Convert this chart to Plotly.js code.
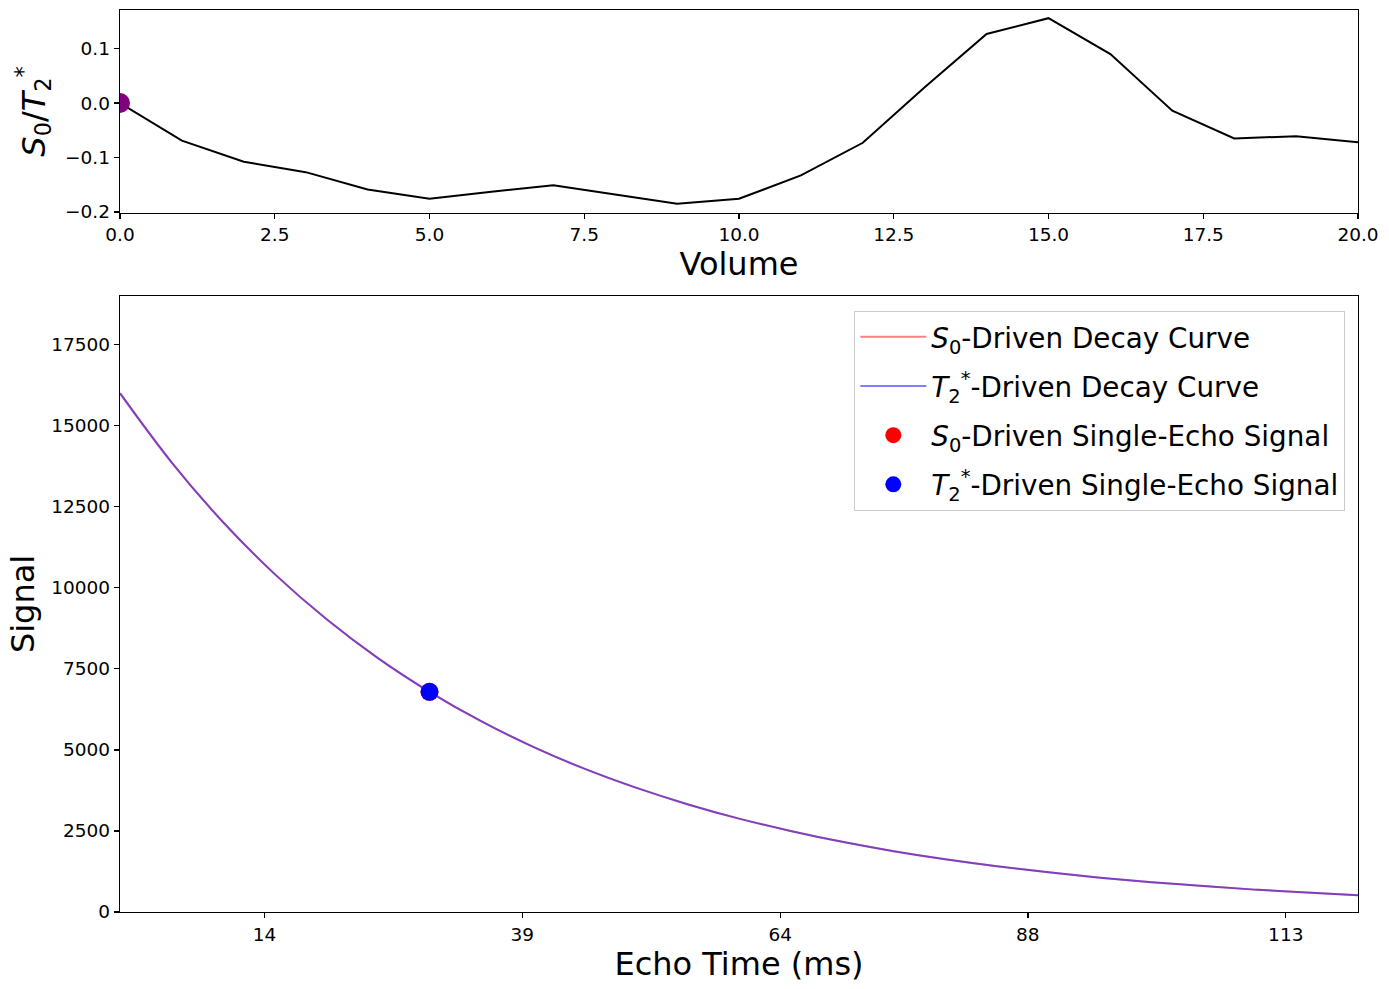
<!DOCTYPE html>
<html>
<head>
<meta charset="utf-8">
<script src="https://cdn.plot.ly/plotly-3.0.1.min.js"></script>
<style>html,body{margin:0;padding:0;background:#fff;}#chart{width:1389px;height:989px;}</style>
</head>
<body>
<div id="chart"></div>
<script>
// Top panel: S0/T2* ratio per volume
const volumes = [0,1,2,3,4,5,6,7,8,9,10,11,12,13,14,15,16,17,18,19,20];
const ratio = [0.0,-0.069,-0.108,-0.127,-0.159,-0.176,-0.163,-0.151,-0.168,-0.185,-0.176,-0.133,-0.073,0.029,0.127,0.156,0.090,-0.014,-0.065,-0.061,-0.072];
const currentVolume = [0];
const currentRatio = [0.0];

// Bottom panel: decay curves
const echoTimes = [0,5,10,15,20,25,30,35,40,45,50,55,60,65,70,75,80,85,90,95,100,105,110,115,120];
const s0Curve = [16000,13870,12020,10420,9035,7830,6790,5885,5100,4420,3835,3325,2880,2500,2165,1875,1625,1410,1225,1060,920,800,690,600,520];
const t2Curve = [16000,13870,12020,10420,9035,7830,6790,5885,5100,4420,3835,3325,2880,2500,2165,1875,1625,1410,1225,1060,920,800,690,600,520];
const singleEchoTE = [30];
const s0Single = [6790];
const t2Single = [6790];
const echoTickVals = [14,39,64,88,113];
const echoTickText = ["14","39","64","88","113"];

const FONT = "DejaVu Sans, sans-serif";
const tickFont = {family: FONT, size: 18.5, color: "#000"};
const titleFont = {family: FONT, size: 32, color: "#000"};

const traces = [
  {x: volumes, y: ratio, xaxis: "x", yaxis: "y", mode: "lines", type: "scatter",
   line: {color: "#000", width: 2}, showlegend: false},
  {x: currentVolume, y: currentRatio, xaxis: "x", yaxis: "y", mode: "markers", type: "scatter",
   marker: {color: "purple", size: 20}, showlegend: false},
  {x: echoTimes, y: s0Curve, xaxis: "x2", yaxis: "y2", mode: "lines", type: "scatter",
   line: {color: "rgba(255,0,0,0.5)", width: 2, shape: "spline"},
   name: "<i>S</i><sub>0</sub>-Driven Decay Curve", legendgroup: "a"},
  {x: echoTimes, y: t2Curve, xaxis: "x2", yaxis: "y2", mode: "lines", type: "scatter",
   line: {color: "rgba(0,0,255,0.5)", width: 2, shape: "spline"},
   name: "<i>T</i><sub>2</sub><sup>*</sup>-Driven Decay Curve", legendgroup: "b"},
  {x: singleEchoTE, y: s0Single, xaxis: "x2", yaxis: "y2", mode: "markers", type: "scatter",
   marker: {color: "red", size: 18},
   name: "<i>S</i><sub>0</sub>-Driven Single-Echo Signal", legendgroup: "c"},
  {x: singleEchoTE, y: t2Single, xaxis: "x2", yaxis: "y2", mode: "markers", type: "scatter",
   marker: {color: "blue", size: 18},
   name: "<i>T</i><sub>2</sub><sup>*</sup>-Driven Single-Echo Signal", legendgroup: "d"}
];

const axisCommon = {
  showline: true, linecolor: "#000", linewidth: 1.3, mirror: true,
  ticks: "outside", ticklen: 5, tickwidth: 1.3, tickcolor: "#000",
  showgrid: false, zeroline: false, tickfont: tickFont
};

const layout = {
  width: 1389, height: 989,
  margin: {l: 120, r: 31, t: 10, b: 77},
  paper_bgcolor: "#fff", plot_bgcolor: "#fff",
  font: {family: FONT, color: "#000"},
  showlegend: true,
  xaxis: Object.assign({}, axisCommon, {
    domain: [0, 1], anchor: "y", range: [0, 20], dtick: 2.5, tick0: 0, tickformat: ".1f",
    title: {text: "Volume", font: titleFont, standoff: 7}
  }),
  yaxis: Object.assign({}, axisCommon, {
    domain: [0.775, 1], anchor: "x", range: [-0.202, 0.171], dtick: 0.1, tick0: 0, tickformat: ".1f",
    title: {text: "<i>S</i><sub>0</sub>/<i>T</i><sub>2</sub><sup>*</sup>", font: titleFont, standoff: 10}
  }),
  xaxis2: Object.assign({}, axisCommon, {
    domain: [0, 1], anchor: "y2", range: [0, 120], tickvals: echoTickVals, ticktext: echoTickText,
    title: {text: "Echo Time (ms)", font: titleFont, standoff: 6}
  }),
  yaxis2: Object.assign({}, axisCommon, {
    domain: [0, 0.683], anchor: "x2", range: [0, 19000], dtick: 2500, tick0: 0, tickformat: "d",
    title: {text: "Signal", font: titleFont, standoff: 7}
  }),
  legend: {
    x: 0.9895, y: 0.6663, xanchor: "right", yanchor: "top", xref: "paper", yref: "paper",
    bgcolor: "rgba(255,255,255,0.8)", bordercolor: "#cccccc", borderwidth: 1.3,
    font: {family: FONT, size: 27.8, color: "#000"},
    tracegroupgap: 10, traceorder: "grouped", itemwidth: 66
  }
};

Plotly.newPlot("chart", traces, layout, {displayModeBar: false, staticPlot: true});
</script>
</body>
</html>
